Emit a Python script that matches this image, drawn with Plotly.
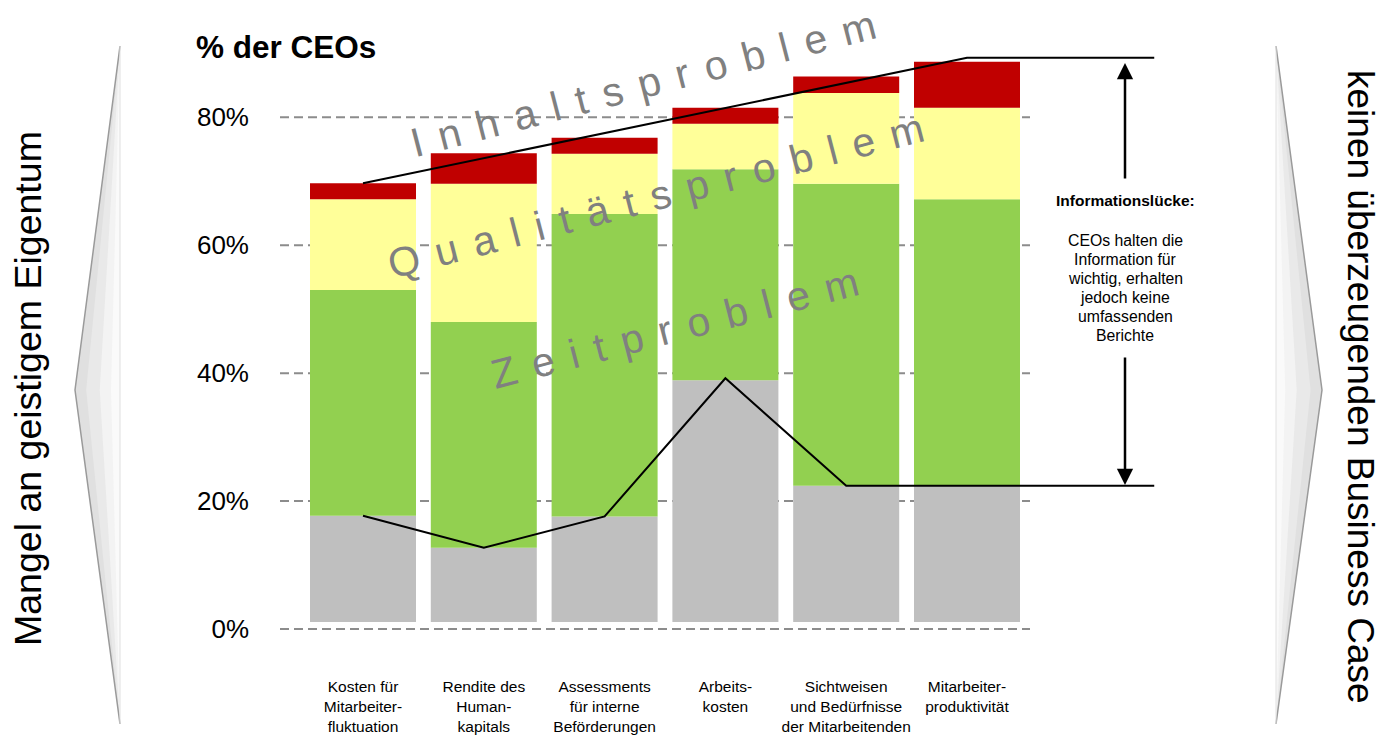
import plotly.graph_objects as go
import numpy as np

# ---------------- data ----------------
categories = [
    "Kosten für<br>Mitarbeiter-<br>fluktuation",
    "Rendite des<br>Human-<br>kapitals",
    "Assessments<br>für interne<br>Beförderungen",
    "Arbeits-<br>kosten",
    "Sichtweisen<br>und Bedürfnisse<br>der Mitarbeitenden",
    "Mitarbeiter-<br>produktivität",
]
baseline = 1.1
gray_vals = [16.6, 11.6, 16.5, 37.8, 21.3, 21.3]
green_vals = [35.3, 35.3, 47.3, 33.0, 47.2, 44.8]
yellow_vals = [14.2, 21.6, 9.4, 7.1, 14.2, 14.3]
red_vals = [2.5, 4.8, 2.5, 2.5, 2.6, 7.2]

# guide lines (x in category index units)
top_line_x = [0, 5, 6.55]
top_line_y = [69.7, 89.3, 89.3]
bottom_line_x = [0, 1, 2, 3, 4, 6.55]
bottom_line_y = [17.7, 12.7, 17.6, 39.2, 22.4, 22.4]

y_ticks = [0, 20, 40, 60, 80]
y_tick_labels = ["0%", "20%", "40%", "60%", "80%"]
problem_labels = ["Inhaltsproblem", "Qualitätsproblem", "Zeitproblem"]
info_title = "Informationslücke:"
info_lines = ["CEOs halten die", "Information für", "wichtig, erhalten",
              "jedoch keine", "umfassenden", "Berichte"]

# ---------------- geometry helpers ----------------
W, H = 1385, 735
L, R, T, B = 280, 225, 20, 75
plot_w = W - L - R
plot_h = H - T - B
x_unit = 120.8
x_min = (L - 363) / x_unit
x_max = x_min + plot_w / x_unit
y_per = 6.396
y_min = -(H - B - 629) / y_per
y_max = y_min + plot_h / y_per
FONT = "Liberation Sans, Arial, sans-serif"


def px(x):
    return (x - L) / plot_w


def py(y):
    return (H - B - y) / plot_h


def dx(xp):
    return (xp - 363) / x_unit


def dy(yp):
    return (629 - yp) / y_per


xpos = list(range(len(categories)))
colors = ["#bfbfbf", "#92d050", "#ffff99", "#c00000"]
series = [gray_vals, green_vals, yellow_vals, red_vals]

fig = go.Figure()
base = np.full(len(categories), baseline, dtype=float)
for vals, col in zip(series, colors):
    fig.add_trace(go.Bar(x=xpos, y=vals, base=base.copy(), marker=dict(color=col, line=dict(width=0)),
                         width=0.8775, showlegend=False, hoverinfo="skip"))
    base = base + np.array(vals)

fig.add_trace(go.Scatter(x=top_line_x, y=top_line_y, mode="lines",
                         line=dict(color="black", width=2), showlegend=False, hoverinfo="skip"))
fig.add_trace(go.Scatter(x=bottom_line_x, y=bottom_line_y, mode="lines",
                         line=dict(color="black", width=2), showlegend=False, hoverinfo="skip"))

shapes = []
for v in y_ticks:
    shapes.append(dict(type="line", xref="paper", yref="y", x0=0, x1=px(1030), y0=v, y1=v,
                       line=dict(color="#8c8c8c", width=2, dash="9px,5px"), layer="below"))


# side chevrons
def poly(pts):
    return "M " + " L ".join(f"{px(a):.5f},{py(b):.5f}" for a, b in pts) + " Z"


for (xe, xt) in [(120, 75), (1276, 1322)]:
    sgn = 1 if xt < xe else -1
    for frac, col in [(1.0, "#e0e0e0"), (0.75, "#e9e9e9"), (0.45, "#f3f3f3"), (0.2, "#fafafa")]:
        tip = xe - sgn * abs(xe - xt) * frac
        shapes.append(dict(type="path", xref="paper", yref="paper",
                           path=poly([(xe, 46), (tip, 390), (xe, 724)]),
                           fillcolor=col, line=dict(width=0), layer="above"))
    shapes.append(dict(type="path", xref="paper", yref="paper",
                       path=f"M {px(xe):.5f},{py(46):.5f} L {px(xt):.5f},{py(390):.5f} L {px(xe):.5f},{py(724):.5f}",
                       line=dict(color="#9a9a9a", width=1.5), layer="above"))
    shapes.append(dict(type="line", xref="paper", yref="paper", x0=px(xe), x1=px(xe),
                       y0=py(46), y1=py(724), line=dict(color="#e0e0e0", width=1), layer="above"))

annotations = []
# title
annotations.append(dict(text="<b>% der CEOs</b>", xref="paper", yref="paper", x=px(194), y=py(47),
                        xanchor="left", yanchor="middle", showarrow=False,
                        font=dict(size=31.5, color="black", family=FONT)))

# spaced problem labels
gap = '<span style="font-size:29px">\u00a0\u00a0</span>'
label_pos = [(643, 84, -14.5), (656, 196, -14.5), (675, 328, -14.5)]
for lab, (cx, cy, ang) in zip(problem_labels, label_pos):
    annotations.append(dict(text=gap.join(list(lab)), xref="paper", yref="paper", x=px(cx), y=py(cy),
                            xanchor="center", yanchor="middle", showarrow=False, textangle=ang,
                            font=dict(size=41, color="#808080", family=FONT)))

# side texts
annotations.append(dict(text="Mangel an geistigem Eigentum", xref="paper", yref="paper", x=px(28), y=py(389),
                        xanchor="center", yanchor="middle", showarrow=False, textangle=-90,
                        font=dict(size=37.5, color="black", family=FONT)))
annotations.append(dict(text="keinen überzeugenden Business Case", xref="paper", yref="paper", x=px(1361),
                        y=py(387), xanchor="center", yanchor="middle", showarrow=False, textangle=90,
                        font=dict(size=37, color="black", family=FONT)))

# information gap arrows + text
ix = dx(1125)
annotations.append(dict(x=ix, y=dy(63), ax=ix, ay=dy(180), xref="x", yref="y", axref="x", ayref="y",
                        text="", showarrow=True, arrowhead=2, arrowsize=1.3, arrowwidth=2.5,
                        arrowcolor="black", standoff=0))
annotations.append(dict(x=ix, y=dy(485), ax=ix, ay=dy(356), xref="x", yref="y", axref="x", ayref="y",
                        text="", showarrow=True, arrowhead=2, arrowsize=1.3, arrowwidth=2.5,
                        arrowcolor="black", standoff=0))
annotations.append(dict(text=f"<b>{info_title}</b>", x=ix, y=dy(200), xref="x", yref="y",
                        xanchor="center", yanchor="middle", showarrow=False,
                        font=dict(size=15.5, color="black", family=FONT)))
for i, line in enumerate(info_lines):
    annotations.append(dict(text=line, x=ix, y=dy(240 + 19 * i), xref="x", yref="y",
                            xanchor="center", yanchor="middle", showarrow=False,
                            font=dict(size=15.8, color="black", family=FONT)))

fig.update_layout(
    width=W, height=H,
    margin=dict(l=L, r=R, t=T, b=B, pad=0),
    paper_bgcolor="white", plot_bgcolor="white",
    barmode="overlay",
    font=dict(family=FONT, color="black"),
    shapes=shapes, annotations=annotations,
    xaxis=dict(range=[x_min, x_max], tickvals=xpos, ticktext=categories, showgrid=False,
               zeroline=False, showline=False, ticks="", automargin=False,
               tickfont=dict(size=15.5, color="black"), ticklabelstandoff=15),
    yaxis=dict(range=[y_min, y_max], tickvals=y_ticks, ticktext=y_tick_labels, showgrid=False,
               zeroline=False, showline=False, ticks="", automargin=False,
               tickfont=dict(size=26, color="black"), ticklabelstandoff=30),
)

fig.write_html("out.html", config={"displayModeBar": False},
               post_script="document.body.style.margin='0';document.body.style.padding='0';"
                           "document.documentElement.style.overflow='hidden';")
